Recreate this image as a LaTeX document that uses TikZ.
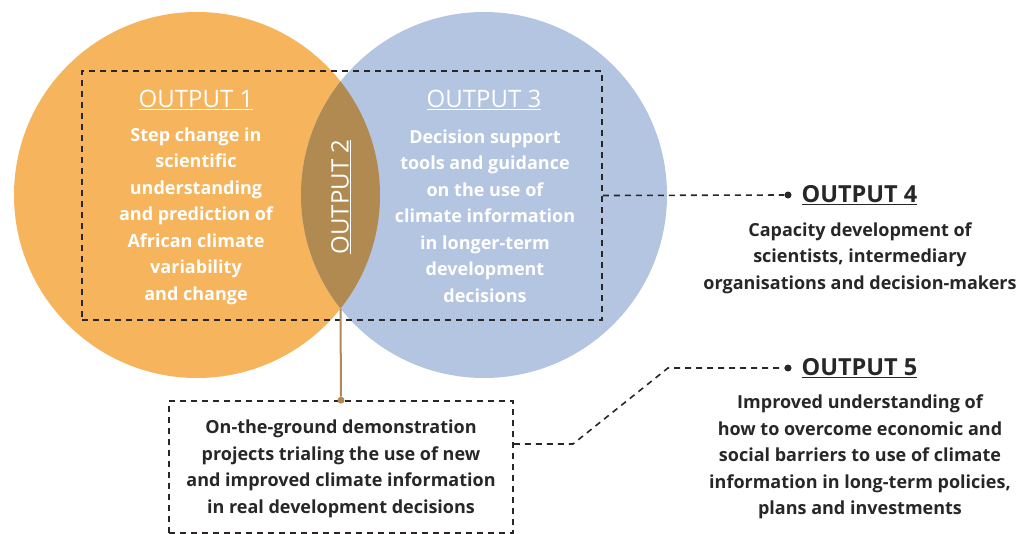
\documentclass[tikz,border=0pt]{standalone}
\usepackage{fontspec}
\setmainfont{Open Sans}
\usepackage{tikz}

\definecolor{vennorange}{RGB}{246,180,92}
\definecolor{vennblue}{RGB}{180,197,226}
\definecolor{vennlens}{RGB}{176,138,80}
\definecolor{inkgray}{RGB}{40,38,38}

\tikzset{
  venhead/.style={text=white, font=\fontsize{24}{26}\selectfont},
  ventext/.style={text=white, align=center, font=\fontsize{18}{26.5}\selectfont\bfseries},
  outhead/.style={text=inkgray, anchor=west, font=\fontsize{23.5}{26}\selectfont\bfseries},
  outtext/.style={text=inkgray, align=center, font=\fontsize{18}{26.5}\selectfont\bfseries},
  link/.style={draw=inkgray, line width=1.6pt, dash pattern=on 6pt off 5pt},
  dotnode/.style={circle, fill=#1, inner sep=0pt, minimum size=7pt},
  dotnode/.default=inkgray
}

\begin{document}
\begin{tikzpicture}[x=1pt, y=-1pt]
    \useasboundingbox (0,0) rectangle (1024,534);
    % the two circles and their overlap
    \fill[vennorange] (197,195) circle (183pt);
    \fill[vennblue]   (484,195) circle (183pt);
    \begin{scope}
      \clip (197,195) circle (183pt);
      \fill[vennlens] (484,195) circle (183pt);
    \end{scope}
    \coordinate (lensbot) at (340.5,309);

    % dashed frame round outputs 1-3
    \node[link, minimum width=520pt, minimum height=249pt, inner sep=0pt] (frame) at (342,195.5) {};

    \node[venhead] (out1) at (196,100) {\underline{OUTPUT 1}};
    \node[ventext] (txt1) at (196,216) {Step change in\\ scientific\\ understanding\\ and prediction of\\ African climate\\ variability\\ and change};
    \node[venhead, rotate=90] (out2) at (341,197) {\underline{OUTPUT 2}};
    \node[venhead] (out3) at (484,100) {\underline{OUTPUT 3}};
    \node[ventext] (txt3) at (485,216) {Decision support\\ tools and guidance\\ on the use of\\ climate information\\ in longer-term\\ development\\ decisions};

    % output 4
    \node[dotnode] (dot4) at (788,195) {};
    \node[outhead] (out4) at (798,195) {\underline{OUTPUT 4}};
    \node[outtext] (txt4) at (860,258) {Capacity development of\\ scientists, intermediary\\ organisations and decision-makers};
    \draw[link] (frame.east) -- (dot4);

    % demonstration projects
    \node[link, minimum width=344pt, minimum height=132pt, inner sep=0pt] (demo) at (341,467) {};
    \node[outtext] (txtdemo) at (341,469) {On-the-ground demonstration\\ projects trialing the use of new\\ and improved climate information\\ in real development decisions};
    \node[dotnode=vennlens] (dotdemo) at (demo.north) {};
    \draw[vennlens, line width=2pt] (lensbot) -- (dotdemo);

    % output 5
    \node[dotnode] (dot5) at (788,368) {};
    \node[outhead] (out5) at (798,368) {\underline{OUTPUT 5}};
    \node[outtext] (txt5) at (860,457) {Improved understanding of\\ how to overcome economic and\\ social barriers to use of climate\\ information in long-term policies,\\ plans and investments};
    \coordinate (bend5a) at (573,444);
    \coordinate (bend5b) at (668,368);
    \draw[link] ([yshift=23pt]demo.east) -- (bend5a) -- (bend5b) -- (dot5);
\end{tikzpicture}
\end{document}
